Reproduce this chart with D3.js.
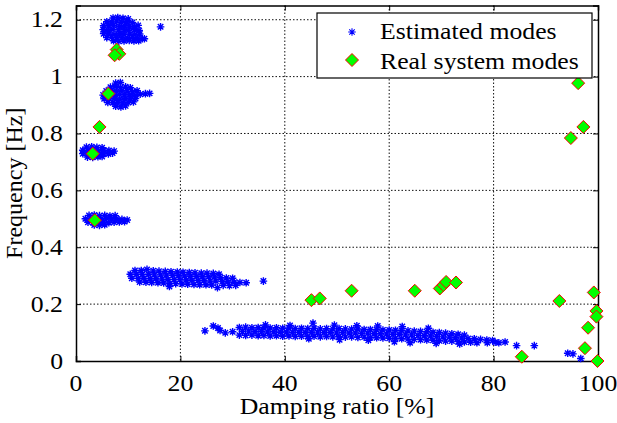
<!DOCTYPE html>
<html>
<head>
<meta charset="utf-8">
<script src="https://cdn.jsdelivr.net/npm/d3@7"></script>
<style>
  body { margin: 0; background: #fff; }
</style>
</head>
<body>
<div id="chart"></div>
<script>
// Axis ticks
const xTicks = [0, 20, 40, 60, 80, 100];
const yTicks = [0, 0.2, 0.4, 0.6, 0.8, 1, 1.2];
const yTickLabels = ["0", "0.2", "0.4", "0.6", "0.8", "1", "1.2"];

// Estimated modes [damping %, frequency Hz], read cluster by cluster
const est1 = [
  [7.1,1.206],[8.0,1.208],[9.0,1.205],[10.0,1.203],
  [5.9,1.193],[6.8,1.192],[7.8,1.195],[8.7,1.191],[9.7,1.193],[10.8,1.190],
  [5.3,1.179],[6.3,1.178],[7.2,1.180],[8.3,1.177],[9.3,1.179],[10.2,1.178],[11.2,1.176],[11.9,1.180],
  [5.2,1.165],[6.2,1.163],[7.1,1.166],[8.2,1.164],[9.2,1.165],[10.1,1.163],[11.2,1.165],[12.1,1.162],
  [5.3,1.151],[6.3,1.150],[7.3,1.148],[8.3,1.151],[9.2,1.149],[10.3,1.150],[11.3,1.148],[12.2,1.150],
  [5.9,1.137],[6.8,1.138],[7.8,1.136],[8.8,1.137],[9.8,1.135],[10.8,1.138],[11.8,1.135],[12.7,1.133],[13.1,1.133],
  [7.2,1.126],[8.2,1.124],[9.2,1.125],[10.2,1.127],[11.1,1.125],[12.0,1.126],
  [16.2,1.175]
];
const est2 = [
  [7.6,0.977],[8.5,0.979],
  [6.6,0.963],[7.5,0.965],[8.5,0.962],[9.5,0.964],[10.4,0.961],
  [5.8,0.949],[6.8,0.950],[7.8,0.948],[8.8,0.951],[9.8,0.949],[10.8,0.947],[11.7,0.950],
  [5.2,0.935],[6.2,0.936],[7.3,0.934],[8.3,0.937],[9.3,0.935],[10.3,0.936],[11.3,0.934],[12.3,0.938],[13.3,0.940],[14.1,0.941],
  [5.4,0.922],[6.4,0.921],[7.4,0.923],[8.4,0.920],[9.4,0.922],[10.4,0.921],[11.4,0.923],
  [6.1,0.909],[7.1,0.908],[8.0,0.910],[9.0,0.907],[10.0,0.909],[11.0,0.911],
  [7.6,0.896],[8.6,0.893],[9.5,0.897]
];
const est3 = [
  [2.0,0.752],[3.0,0.753],[4.0,0.751],[5.0,0.750],
  [1.3,0.741],[2.3,0.740],[3.3,0.742],[4.3,0.739],[5.3,0.741],[6.3,0.740],[7.3,0.738],
  [1.3,0.729],[2.3,0.728],[3.3,0.730],[4.3,0.727],[5.3,0.729],[6.2,0.728],[7.0,0.731],
  [2.2,0.717],[3.2,0.716],[4.2,0.718],[5.0,0.719]
];
const est4 = [
  [2.5,0.512],[3.5,0.513],[4.5,0.511],[5.5,0.512],[6.5,0.510],[7.5,0.511],
  [1.8,0.500],[2.8,0.501],[3.8,0.499],[4.8,0.500],[5.8,0.502],[6.8,0.499],[7.8,0.500],[8.8,0.498],[9.8,0.496],
  [2.3,0.488],[3.3,0.487],[4.3,0.489],[5.3,0.488],[6.3,0.486],[7.3,0.488],[8.3,0.489],[9.3,0.490],
  [3.5,0.478],[4.5,0.477],[5.5,0.479]
];
const est5 = [
  [11.3,0.318],[12.5,0.318],[13.6,0.322],[14.8,0.317],[15.9,0.316],[17.1,0.315],[18.2,0.314],[19.4,0.313],
  [20.5,0.312],[21.7,0.311],[22.8,0.310],[24.0,0.309],[25.1,0.309],[26.3,0.308],[27.4,0.305],
  [10.4,0.305],[11.6,0.305],[12.7,0.304],[13.9,0.305],[15.0,0.303],[16.2,0.303],[17.3,0.302],[18.5,0.301],
  [19.6,0.300],[20.8,0.299],[21.9,0.298],[23.1,0.297],[24.2,0.296],[25.4,0.296],[26.5,0.295],[27.7,0.293],
  [28.8,0.292],[30.0,0.291],
  [10.7,0.291],[11.9,0.290],[13.0,0.291],[14.2,0.289],[15.3,0.289],[16.5,0.288],[17.6,0.287],[18.8,0.286],
  [19.9,0.286],[21.1,0.285],[22.2,0.284],[23.4,0.283],[24.5,0.282],[25.7,0.281],[26.8,0.281],[28.0,0.279],
  [29.1,0.278],[30.3,0.277],[31.4,0.276],[32.6,0.275],
  [12.2,0.278],[13.4,0.277],[14.5,0.276],[15.7,0.275],[16.8,0.274],[17.9,0.262],[18.0,0.273],[19.1,0.272],
  [20.3,0.271],[21.4,0.270],[22.6,0.269],[23.7,0.268],[24.9,0.268],[26.0,0.267],[27.1,0.258],[28.2,0.266],
  [29.4,0.265],[30.6,0.266],
  [35.9,0.281]
];
const est6 = [
  [24.7,0.106],[26.3,0.123],[27.2,0.116],[27.6,0.107],[28.6,0.099],[30.0,0.103],
  [31.3,0.118],[32.5,0.119],[33.7,0.117],[34.9,0.118],[36.0,0.117],[37.2,0.116],[38.4,0.117],[39.6,0.115],
  [40.8,0.116],[42.0,0.114],[43.2,0.115],[44.4,0.114],[45.6,0.115],[46.8,0.113],[48.0,0.114],[49.2,0.113],
  [50.4,0.114],[51.6,0.113],[52.8,0.112],[54.0,0.113],[55.2,0.111],[56.4,0.111],[57.6,0.110],[58.8,0.109],
  [60.0,0.109],[61.2,0.108],[62.4,0.107],[63.6,0.106],[64.8,0.105],[66.0,0.104],[67.2,0.103],[68.4,0.101],
  [69.6,0.100],[70.8,0.098],[72.0,0.096],[73.2,0.094],[74.4,0.091],
  [31.9,0.104],[33.1,0.105],[34.3,0.103],[35.5,0.104],[36.7,0.102],[37.9,0.103],[39.1,0.101],[40.3,0.102],
  [41.5,0.100],[42.7,0.101],[43.9,0.100],[45.1,0.101],[46.3,0.099],[47.5,0.100],[48.7,0.100],[49.9,0.099],
  [51.1,0.100],[52.3,0.098],[53.5,0.099],[54.7,0.097],[55.9,0.098],[57.1,0.096],[58.3,0.096],[59.5,0.095],
  [60.7,0.094],[61.9,0.094],[63.1,0.092],[64.3,0.092],[65.5,0.090],[66.7,0.089],[67.9,0.088],[69.1,0.087],
  [70.3,0.085],[71.5,0.084],[72.7,0.082],[73.9,0.081],[75.1,0.079],[76.3,0.078],[77.5,0.076],[78.7,0.074],
  [79.8,0.072],
  [31.3,0.091],[32.5,0.090],[33.7,0.091],[34.9,0.089],[36.0,0.090],[37.2,0.088],[38.4,0.089],[39.6,0.087],
  [40.8,0.088],[42.0,0.086],[43.2,0.087],[44.4,0.086],[45.6,0.087],[46.8,0.085],[48.0,0.086],[49.2,0.085],
  [50.4,0.086],[51.6,0.084],[52.8,0.085],[54.0,0.083],[55.2,0.084],[56.4,0.082],[57.6,0.082],[58.8,0.081],
  [60.0,0.080],[61.2,0.079],[62.4,0.078],[63.6,0.077],[64.8,0.076],[66.0,0.075],[67.2,0.074],[68.4,0.073],
  [69.6,0.071],[70.8,0.070],[72.0,0.070],[73.2,0.068],[74.4,0.067],[75.6,0.066],
  [36.3,0.127],[41.0,0.125],[45.4,0.133],[49.5,0.126],[53.8,0.124],[57.8,0.123],[62.5,0.121],[67.5,0.115],
  [44.6,0.078],[50.5,0.075],[56.0,0.073],[61.0,0.068],[64.0,0.064],[69.0,0.062],[73.5,0.060],[76.8,0.064],
  [78.8,0.064],[80.3,0.066],[81.0,0.064],[82.2,0.067],[84.4,0.054],[87.8,0.054],
  [94.2,0.027],[95.2,0.025],[96.7,0.009]
];

// Real system modes [damping %, frequency Hz]
const realModes = [
  [7.8,1.095],[8.3,1.080],[7.4,1.075],
  [6.2,0.940],[4.5,0.823],
  [3.2,0.729],[3.6,0.495],
  [45.1,0.214],[46.7,0.220],[52.8,0.247],[64.9,0.247],
  [69.7,0.255],[70.4,0.267],[70.9,0.278],[72.8,0.276],
  [92.6,0.211],[99.2,0.241],[99.7,0.176],[99.7,0.156],[98.1,0.117],[97.5,0.045],[85.4,0.015],[99.9,0.000],
  [96.2,0.977],[97.2,0.823],[94.8,0.784]
];

const legendLabels = ["Estimated modes", "Real system modes"];

const estimated = [].concat(est1, est2, est3, est4, est5, est6);

const FONT = "Liberation Serif";
const SX = 1.12; // reference text is a little wider than plain Times
const width = 617, height = 423;
const svg = d3.select("#chart").append("svg")
  .attr("width", width).attr("height", height);

const x = d3.scaleLinear().domain([0, 100]).range([76, 598]);
const y = d3.scaleLinear().domain([0, 1.25]).range([361, 5.5]);

// adds a text at (tx, ty), widened horizontally by SX
function label(parent, tx, ty, str, anchor, size) {
  return parent.append("g").attr("transform", `translate(${tx},${ty}) scale(${SX},1)`)
    .append("text")
    .attr("text-anchor", anchor)
    .style("font-family", FONT).style("font-size", size + "px")
    .text(str);
}

// dotted grid
svg.append("g").selectAll("line").data(xTicks.slice(1, -1)).join("line")
  .attr("x1", d => x(d)).attr("x2", d => x(d))
  .attr("y1", y(1.25)).attr("y2", y(0))
  .attr("stroke", "#111").attr("stroke-width", 1).attr("stroke-dasharray", "1.5,2");
svg.append("g").selectAll("line").data(yTicks.slice(1)).join("line")
  .attr("x1", x(0)).attr("x2", x(100))
  .attr("y1", d => y(d)).attr("y2", d => y(d))
  .attr("stroke", "#111").attr("stroke-width", 1).attr("stroke-dasharray", "1.5,2");

// axes: ticks inside, on all four sides; labels drawn separately
const fs = 23;
svg.append("g").attr("transform", `translate(0,${y(0)})`)
  .call(d3.axisBottom(x).tickValues(xTicks).tickSize(-5).tickFormat(""));
svg.append("g").attr("transform", `translate(0,${y(1.25)})`)
  .call(d3.axisTop(x).tickValues(xTicks).tickSize(-5).tickFormat(""));
svg.append("g").attr("transform", `translate(${x(0)},0)`)
  .call(d3.axisLeft(y).tickValues(yTicks).tickSize(-5).tickFormat(""));
svg.append("g").attr("transform", `translate(${x(100)},0)`)
  .call(d3.axisRight(y).tickValues(yTicks).tickSize(-5).tickFormat(""));
svg.selectAll(".domain").attr("stroke", "#000").attr("stroke-width", 1.5);
svg.selectAll(".tick line").attr("stroke", "#000").attr("stroke-width", 1);

const tickLabels = svg.append("g");
xTicks.forEach(t => label(tickLabels, x(t), 391, String(t), "middle", fs));
yTicks.forEach((t, i) => label(tickLabels, x(0) - 13, y(t) + 7.5, yTickLabels[i], "end", fs));

// axis titles
label(svg, (x(0) + x(100)) / 2, 414, "Damping ratio [%]", "middle", fs);
svg.append("text")
  .attr("transform", `translate(22,${(y(0) + y(1.25)) / 2}) rotate(-90)`)
  .attr("text-anchor", "middle")
  .style("font-family", FONT).style("font-size", "24px")
  .text("Frequency [Hz]");

// markers
const ar = 3.8, aq = ar * 0.72;
const starPath = `M${-ar},0H${ar}M0,${-ar}V${ar}M${-aq},${-aq}L${aq},${aq}M${-aq},${aq}L${aq},${-aq}`;
const dr = 6.5;
const diamondPath = `M0,${-dr}L${dr},0L0,${dr}L${-dr},0Z`;

svg.append("g").selectAll("path").data(estimated).join("path")
  .attr("transform", d => `translate(${x(d[0])},${y(d[1])})`)
  .attr("d", starPath)
  .attr("fill", "none").attr("stroke", "#0000ff").attr("stroke-width", 1.4);

svg.append("g").selectAll("path").data(realModes).join("path")
  .attr("transform", d => `translate(${x(d[0])},${y(d[1])})`)
  .attr("d", diamondPath)
  .attr("fill", "#00ff00").attr("stroke", "#ff0000").attr("stroke-width", 1);

// legend
const lg = svg.append("g");
lg.append("rect").attr("x", 317).attr("y", 13).attr("width", 275).attr("height", 65)
  .attr("fill", "#fff").attr("stroke", "#000").attr("stroke-width", 1.2);
lg.append("path").attr("transform", "translate(352,32)").attr("d", starPath)
  .attr("fill", "none").attr("stroke", "#0000ff").attr("stroke-width", 1.1);
lg.append("path").attr("transform", "translate(352,60)").attr("d", diamondPath)
  .attr("fill", "#00ff00").attr("stroke", "#ff0000").attr("stroke-width", 1);
legendLabels.forEach((s, i) => label(lg, 380, 39 + i * 29.5, s, "start", fs));
</script>
</body>
</html>
